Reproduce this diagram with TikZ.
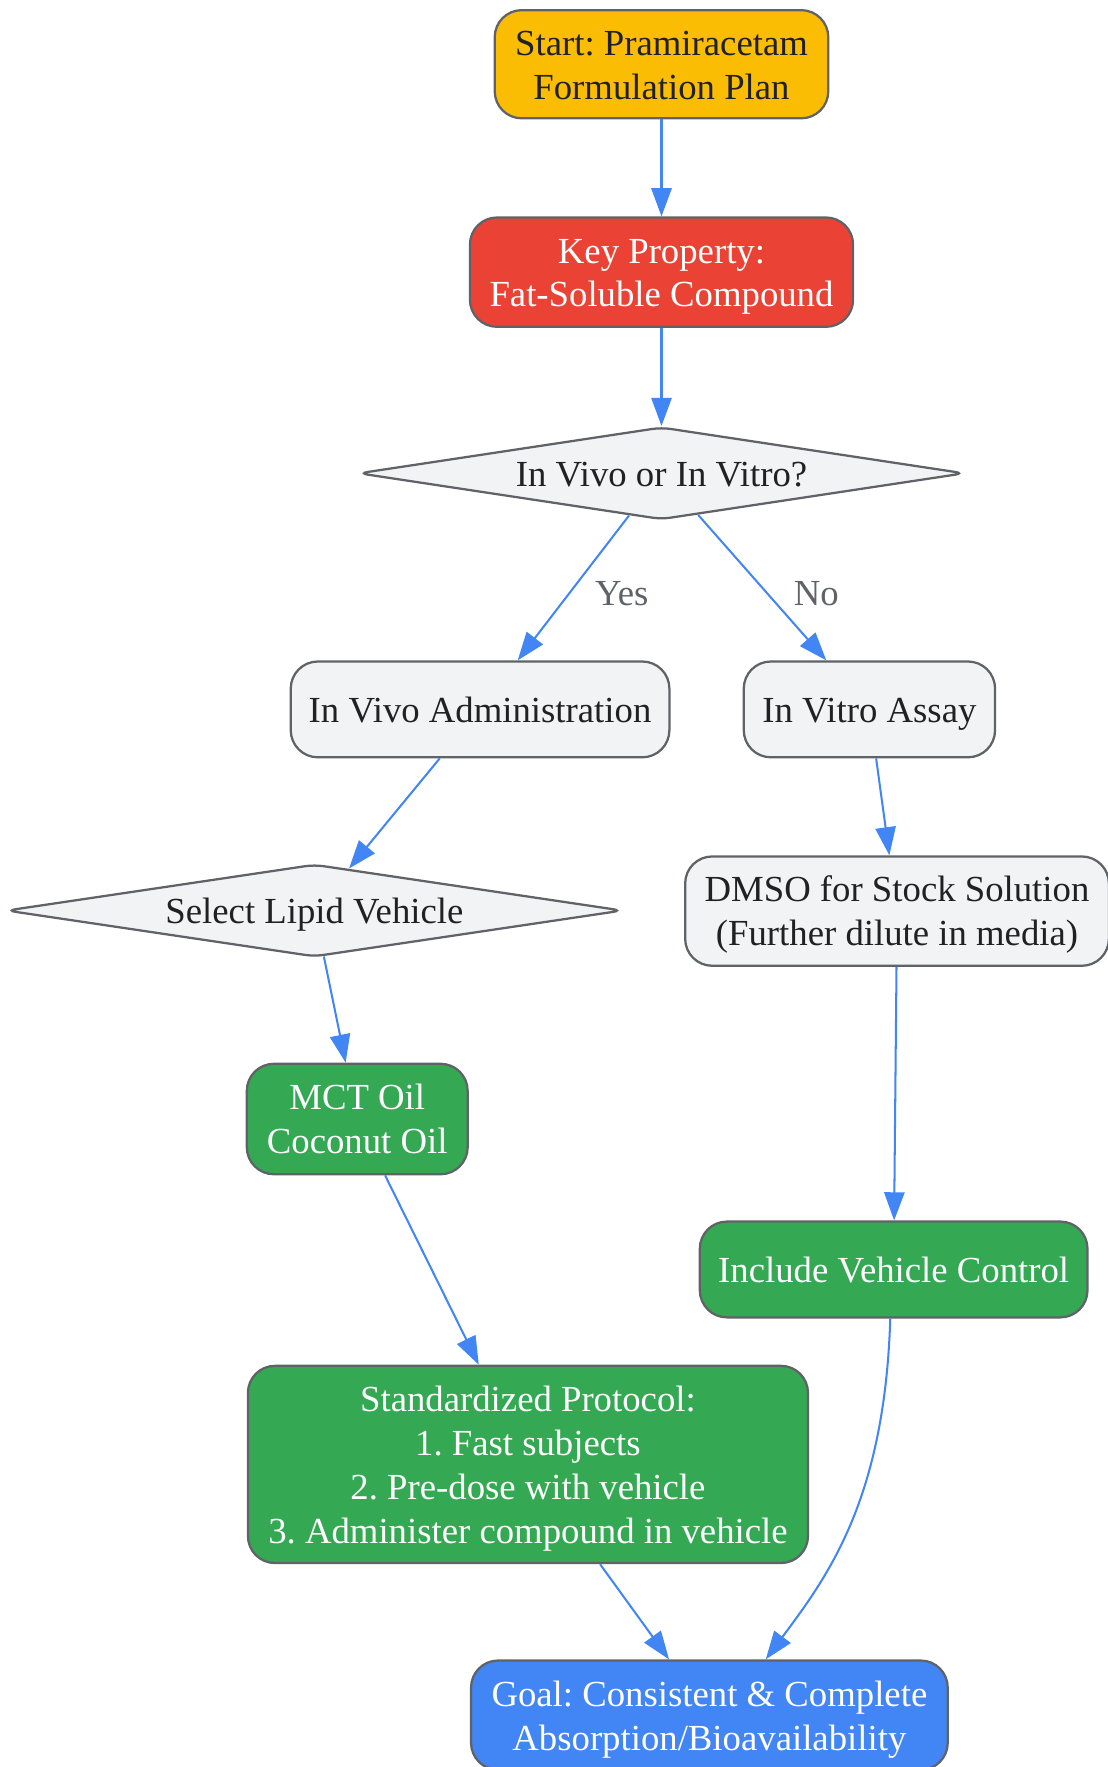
\documentclass[tikz,border=0pt]{standalone}
\usepackage{fontspec}
\setmainfont{Liberation Serif}
\usepackage{tikz}
\usetikzlibrary{shapes, arrows.meta, positioning}
\usepackage{xcolor}
\frenchspacing

\definecolor{startyellow}{HTML}{FBBC04}
\definecolor{keyred}{HTML}{EA4335}
\definecolor{okgreen}{HTML}{34A853}
\definecolor{goalblue}{HTML}{4285F4}
\definecolor{nodegray}{HTML}{F1F3F4}
\definecolor{rimgray}{HTML}{5F6368}
\definecolor{inkdark}{HTML}{202124}
\newcommand{\upstrut}{\rule{0pt}{15pt}}

\begin{document}
\begin{tikzpicture}[x=0.5pt, y=-0.5pt,
  font=\fontsize{16.3}{19.5}\selectfont,
  linebox/.style={execute at begin node={\upstrut}, execute at end node={\rule[-3.6pt]{0pt}{3.6pt}}},
  box/.style={linebox, draw=rimgray, line width=1pt, rounded corners=12pt, align=center, inner sep=0pt},
  choice/.style={linebox, diamond, aspect=6.6, draw=rimgray, line width=1pt, rounded corners=4pt, fill=nodegray, text=inkdark, inner sep=0pt},
  flow/.style={draw=goalblue, line width=0.9pt, -{Triangle[length=12.5pt, width=9pt]}},
  ans/.style={text=rimgray}]
\useasboundingbox (0,0) rectangle (983,1568);

% top of the plan
\node[box, fill=startyellow, text=inkdark, minimum width=148pt, minimum height=48pt] (start) at (587,57) {\upstrut Start: Pramiracetam\\Formulation Plan};
\node[box, fill=keyred, text=white, minimum width=170pt, minimum height=48.5pt] (key) at (587,241.5) {\upstrut Key Property:\\Fat-Soluble Compound};
\node[choice, minimum width=269pt, minimum height=41pt] (mode) at (587,420) {In Vivo or In Vitro?};

% in vivo branch
\node[box, fill=nodegray, text=inkdark, minimum width=168pt, minimum height=42.5pt] (vivo) at (426,629.5) {In Vivo Administration};
\node[choice, minimum width=273.5pt, minimum height=41pt] (lipid) at (279,808) {Select Lipid Vehicle};
\node[box, fill=okgreen, text=white, minimum width=98pt, minimum height=49pt] (oil) at (317,993) {\upstrut MCT Oil\\Coconut Oil};
\node[box, fill=okgreen, text=white, minimum width=248.5pt, minimum height=87.5pt] (proto) at (468.5,1299.5) {\upstrut Standardized Protocol:\\1. Fast subjects\\2. Pre-dose with vehicle\\3. Administer compound in vehicle};

% in vitro branch
\node[box, fill=nodegray, text=inkdark, minimum width=111.5pt, minimum height=42.5pt] (vitro) at (771.5,629.5) {In Vitro Assay};
\node[box, fill=nodegray, text=inkdark, minimum width=188pt, minimum height=48.5pt] (dmso) at (796,808.5) {\upstrut DMSO for Stock Solution\\(Further dilute in media)};
\node[box, fill=okgreen, text=white, minimum width=172pt, minimum height=42.5pt] (ctrl) at (793,1126.5) {Include Vehicle Control};

% goal
\node[box, fill=goalblue, text=white, minimum width=211.5pt, minimum height=48.5pt] (goal) at (629.5,1522) {\upstrut Goal: Consistent \& Complete\\Absorption/Bioavailability};

% connectors
\draw[flow] (start) -- (key);
\draw[flow] (key) -- (mode);
\draw[flow] (mode) -- (vivo) node[ans, midway, xshift=21.5pt, yshift=-2.3pt] {Yes};
\draw[flow] (mode) -- (vitro) node[ans, midway, xshift=24pt, yshift=-2.5pt] {No};
\draw[flow] (vivo) -- (lipid);
\draw[flow] (lipid) -- (oil);
\draw[flow] (oil) -- (proto);
\draw[flow] (proto) -- (goal);
\draw[flow] (vitro) -- (dmso);
\draw[flow] (dmso) -- (ctrl);
\draw[flow] ([xshift=-1.5pt]ctrl.south) .. controls +(-5,161) and +(55,-74) .. ([xshift=25pt]goal.north);
\end{tikzpicture}
\end{document}
